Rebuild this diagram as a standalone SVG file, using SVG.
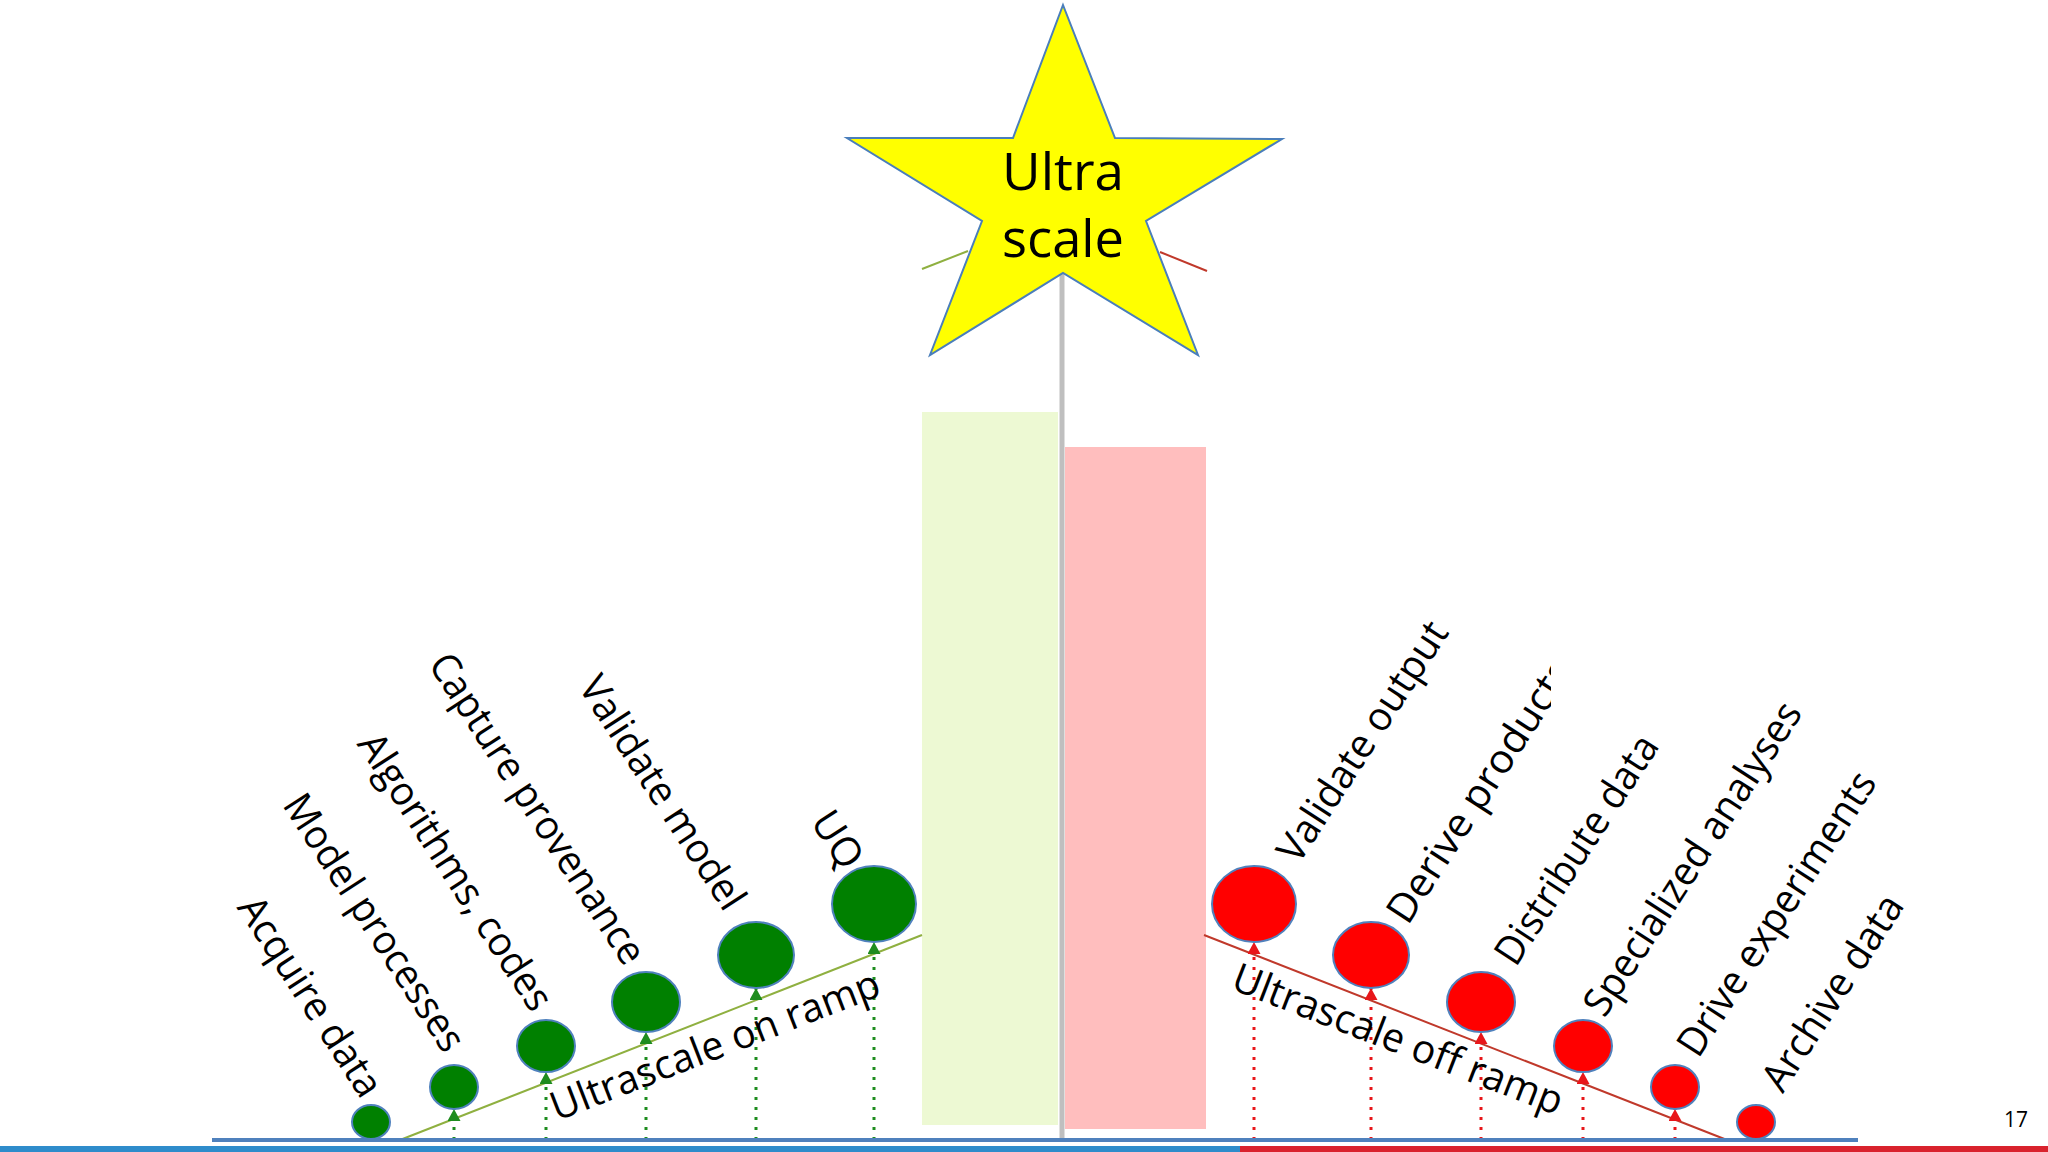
<svg xmlns="http://www.w3.org/2000/svg" width="2048" height="1152" viewBox="0 0 2048 1152">
<style>
.lbl{font-family:"Open Sans","Liberation Sans",sans-serif;font-size:40px;fill:#000;text-anchor:middle}
.gc{fill:#008000;stroke:#4f81bd;stroke-width:2}
.rc{fill:#ff0000;stroke:#4f81bd;stroke-width:2}
.gd{stroke:#1e8c1e;stroke-width:3;stroke-dasharray:3 7;fill:none;marker-end:url(#ga)}
.rd{stroke:#e8161a;stroke-width:3;stroke-dasharray:3 7;fill:none;marker-end:url(#ra)}
</style>
<defs>
<marker id="ga" markerUnits="userSpaceOnUse" markerWidth="12" markerHeight="13" viewBox="0 0 12 13" refX="12" refY="6.5" orient="auto"><path d="M0,0 L12,6.5 L0,13 z" fill="#1e8c1e"/></marker>
<marker id="ra" markerUnits="userSpaceOnUse" markerWidth="12" markerHeight="13" viewBox="0 0 12 13" refX="12" refY="6.5" orient="auto"><path d="M0,0 L12,6.5 L0,13 z" fill="#e8161a"/></marker>
<clipPath id="dclip"><rect x="1300" y="600" width="251" height="400"/></clipPath>
</defs>
<rect width="2048" height="1152" fill="#fff"/>
<g id="bars">
<rect x="922" y="412" width="136" height="713" fill="#edf9d3"/>
<rect x="1065" y="447" width="141" height="682" fill="#ffbebe"/>
<line x1="1062" y1="270" x2="1062" y2="1140" stroke="#bfbfbf" stroke-width="5"/>
</g>
<g id="connectors">
<line x1="400" y1="1140" x2="922" y2="935" stroke="#8fb040" stroke-width="2"/>
<line x1="1204" y1="935" x2="1727" y2="1140" stroke="#c0392b" stroke-width="2"/>
<line x1="922" y1="269" x2="968" y2="251" stroke="#8fb040" stroke-width="2"/>
<line x1="1160" y1="252" x2="1207" y2="271" stroke="#c0392b" stroke-width="2"/>
<path class="gd" d="M454,1140 V1109"/>
<path class="gd" d="M546,1140 V1072"/>
<path class="gd" d="M646,1140 V1032"/>
<path class="gd" d="M756,1140 V988"/>
<path class="gd" d="M874,1140 V942"/>
<path class="rd" d="M1254,1140 V942"/>
<path class="rd" d="M1371,1140 V988"/>
<path class="rd" d="M1481,1140 V1032"/>
<path class="rd" d="M1583,1140 V1072"/>
<path class="rd" d="M1675,1140 V1109"/>
</g>
<g id="baseline">
<line x1="212" y1="1140" x2="1858" y2="1140" stroke="#4f81bd" stroke-width="4"/>
<rect x="0" y="1146" width="1240" height="6" fill="#2e8ccb"/>
<rect x="1240" y="1146" width="808" height="6" fill="#d9222d"/>
</g>
<g id="star">
<polygon points="1063,5 1115,138 1282,139 1146,221 1198,355 1063,273 930,355 982,221 847,138 1013,138" fill="#ffff00" stroke="#4a7ebb" stroke-width="2"/>
<text class="lbl" x="1063" y="190" style="font-size:51px" textLength="122" lengthAdjust="spacingAndGlyphs">Ultra</text>
<text class="lbl" x="1063" y="257" style="font-size:51px" textLength="122" lengthAdjust="spacingAndGlyphs">scale</text>
</g>
<g id="node-acquire"><ellipse class="gc" cx="371" cy="1122" rx="19" ry="17"/><text class="lbl" x="299" y="1004" transform="rotate(57 299 1004)" textLength="230" lengthAdjust="spacingAndGlyphs">Acquire data</text></g>
<g id="node-model"><ellipse class="gc" cx="454" cy="1087" rx="24" ry="22"/><text class="lbl" x="363" y="930" transform="rotate(57 363 930)" textLength="298" lengthAdjust="spacingAndGlyphs">Model processes</text></g>
<g id="node-algorithms"><ellipse class="gc" cx="546" cy="1046" rx="29" ry="26"/><text class="lbl" x="444" y="879" transform="rotate(57 444 879)" textLength="322" lengthAdjust="spacingAndGlyphs">Algorithms, codes</text></g>
<g id="node-capture"><ellipse class="gc" cx="646" cy="1002" rx="34" ry="30"/><text class="lbl" x="526" y="816" transform="rotate(57 526 816)" textLength="362" lengthAdjust="spacingAndGlyphs">Capture provenance</text></g>
<g id="node-validate-model"><ellipse class="gc" cx="756" cy="955" rx="38" ry="33"/><text class="lbl" x="651" y="800" transform="rotate(57 651 800)" textLength="270" lengthAdjust="spacingAndGlyphs">Validate model</text></g>
<g id="node-uq"><ellipse class="gc" cx="874" cy="904" rx="42" ry="38"/><text class="lbl" x="826" y="847" transform="rotate(57 826 847)" textLength="60" lengthAdjust="spacingAndGlyphs">UQ</text></g>
<g id="node-validate-output"><ellipse class="rc" cx="1254" cy="904" rx="42" ry="38"/><text class="lbl" x="1374" y="749" transform="rotate(-57 1374 749)" textLength="278" lengthAdjust="spacingAndGlyphs">Validate output</text></g>
<g id="node-derive"><ellipse class="rc" cx="1371" cy="955" rx="38" ry="33"/><g clip-path="url(#dclip)"><text class="lbl" x="1491" y="798" transform="rotate(-57 1491 798)" textLength="306" lengthAdjust="spacingAndGlyphs">Derive products</text></g></g>
<g id="node-distribute"><ellipse class="rc" cx="1481" cy="1002" rx="34" ry="30"/><text class="lbl" x="1588" y="857" transform="rotate(-57 1588 857)" textLength="265" lengthAdjust="spacingAndGlyphs">Distribute data</text></g>
<g id="node-specialized"><ellipse class="rc" cx="1583" cy="1046" rx="29" ry="26"/><text class="lbl" x="1704" y="866" transform="rotate(-57 1704 866)" textLength="365" lengthAdjust="spacingAndGlyphs">Specialized analyses</text></g>
<g id="node-drive"><ellipse class="rc" cx="1675" cy="1087" rx="24" ry="22"/><text class="lbl" x="1788" y="921" transform="rotate(-57 1788 921)" textLength="330" lengthAdjust="spacingAndGlyphs">Drive experiments</text></g>
<g id="node-archive"><ellipse class="rc" cx="1756" cy="1122" rx="19" ry="17"/><text class="lbl" x="1844" y="1000" transform="rotate(-57 1844 1000)" textLength="225" lengthAdjust="spacingAndGlyphs">Archive data</text></g>
<g id="ramp-labels">
<text class="lbl" x="720" y="1058" transform="rotate(-21.2 720 1058)" textLength="350" lengthAdjust="spacingAndGlyphs">Ultrascale on ramp</text>
<text class="lbl" x="1393" y="1052" transform="rotate(21.2 1393 1052)" textLength="351" lengthAdjust="spacingAndGlyphs">Ultrascale off ramp</text>
</g>
<text x="2028" y="1127" style="font-family:'Open Sans','Liberation Sans',sans-serif;font-size:21px;text-anchor:end" fill="#000">17</text>
</svg>
